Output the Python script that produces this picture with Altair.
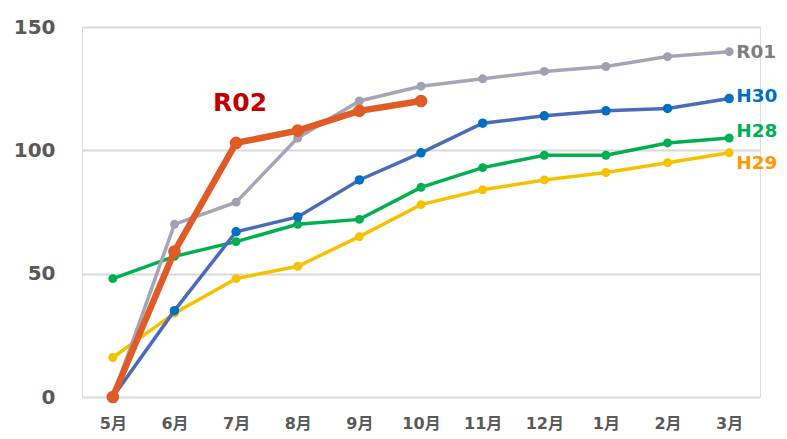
import altair as alt
import pandas as pd

months = ["5月", "6月", "7月", "8月", "9月", "10月", "11月", "12月", "1月", "2月", "3月"]

h28 = [48, 57, 63, 70, 72, 85, 93, 98, 98, 103, 105]
h29 = [16, 34, 48, 53, 65, 78, 84, 88, 91, 95, 99]
h30 = [0, 35, 67, 73, 88, 99, 111, 114, 116, 117, 121]
r01 = [0, 70, 79, 105, 120, 126, 129, 132, 134, 138, 140]
r02 = [0, 59, 103, 108, 116, 120]

series_names = ["H29", "H28", "H30", "R01", "R02"]
series_values = [h29, h28, h30, r01, r02]
line_colors = ["#F5C200", "#00B050", "#4A6BBA", "#A5A5B8", "#E15B27"]
point_colors = ["#F5C200", "#00B050", "#0070C0", "#A0A0B2", "#E15B27"]
line_widths = [3.5, 3.5, 3.5, 3.5, 6.5]
point_sizes = [80, 80, 90, 80, 160]

# end-label positions (value units)
end_label_names = ["R01", "H30", "H28", "H29"]
end_label_values = [140, 122, 108, 95]
end_label_colors = ["#7F7F7F", "#0070C0", "#00B050", "#FF9900"]

FONT = "DejaVu Sans, Noto Sans CJK JP"

x_scale = alt.Scale(domain=months, type="point", padding=0.5)
x_enc = alt.X("month:O", sort=months, scale=x_scale,
              axis=alt.Axis(title=None, labelAngle=0, domain=False, ticks=False, grid=False,
                            labelFont=FONT, labelFontSize=16, labelFontWeight="bold",
                            labelColor="#595959", labelPadding=18))
y_scale = alt.Scale(domain=[0, 150], nice=False)
y_axis = alt.Axis(title=None, values=[0, 50, 100, 150], domain=False, ticks=False,
                  grid=True, gridColor="#D9D9D9", gridWidth=2,
                  labelFont=FONT, labelFontSize=20, labelFontWeight="bold",
                  labelColor="#595959", labelPadding=27)

layers = []
df_axis = pd.DataFrame({"month": months, "value": r01})
layers.append(alt.Chart(df_axis).mark_point(opacity=0).encode(
    x=x_enc, y=alt.Y("value:Q", scale=y_scale, axis=y_axis)))

for name, vals, lc, pc, lw, ps in zip(series_names, series_values, line_colors,
                                      point_colors, line_widths, point_sizes):
    df = pd.DataFrame({"month": months[:len(vals)], "value": vals})
    base = alt.Chart(df).encode(
        x=alt.X("month:O", sort=months, scale=x_scale),
        y=alt.Y("value:Q", scale=y_scale))
    layers.append(base.mark_line(color=lc, strokeWidth=lw, clip=False))
    layers.append(base.mark_circle(color=pc, size=ps, opacity=1, clip=False))

df_lab = pd.DataFrame({"month": ["3月"] * 4, "value": end_label_values,
                       "name": end_label_names, "color": end_label_colors})
layers.append(alt.Chart(df_lab).mark_text(align="left", baseline="middle", dx=7,
                                          font=FONT, fontSize=18.5, fontWeight="bold").encode(
    x=alt.X("month:O", sort=months, scale=x_scale),
    y=alt.Y("value:Q", scale=y_scale),
    text="name:N",
    color=alt.Color("color:N", scale=None)))

df_r02 = pd.DataFrame({"month": ["7月"], "value": [119], "name": ["R02"]})
layers.append(alt.Chart(df_r02).mark_text(align="center", baseline="middle", dx=4,
                                          font=FONT, fontSize=25, fontWeight="bold",
                                          color="#C00000").encode(
    x=alt.X("month:O", sort=months, scale=x_scale),
    y=alt.Y("value:Q", scale=y_scale),
    text="name:N"))

chart = alt.layer(*layers).properties(
    width=678, height=370,
    autosize=alt.AutoSizeParams(type="none"),
    padding={"left": 74, "top": 19, "right": 19, "bottom": 34},
).configure_view(stroke=None).configure(background="white")

chart.save("out.html", embed_options={"renderer": "svg", "actions": False})
